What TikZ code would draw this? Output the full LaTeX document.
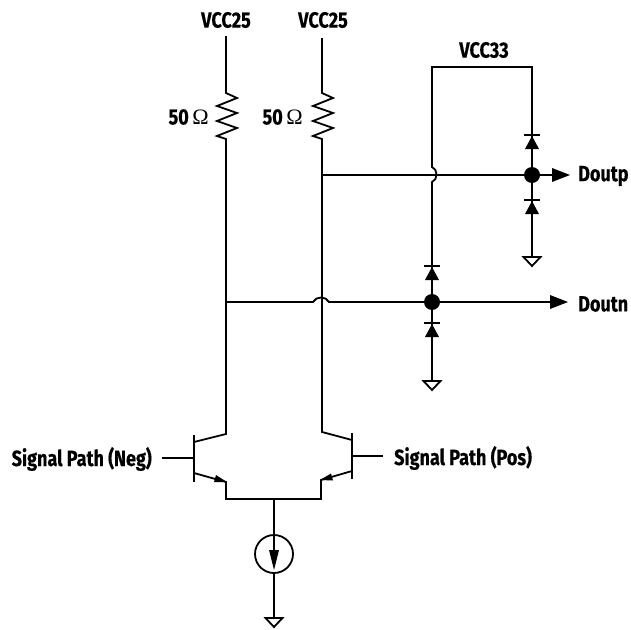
\documentclass[tikz,border=0pt]{standalone}
\usepackage{fontspec}
\setmainfont{Fira Sans}[BoldFont={* Bold},BoldFeatures={FakeBold=0.5},FakeStretch=0.82]
\newfontfamily\omegafont{Liberation Serif}
\tikzset{
  x=1pt,y=-1pt,
  wire/.style={line width=1.8pt,line join=miter},
  thickwire/.style={line width=2.3pt},
  lab/.style={font=\fontsize{22}{24}\selectfont\bfseries,inner sep=0pt},
  dot/.style={circle,fill=black,draw=none,minimum size=16pt,inner sep=0pt},
  gnd/.style={line width=1.8pt,fill=white,line join=miter}
}
\newcommand{\gndsym}[1]{\draw[gnd] ($(#1)+(-8.5,0)$) -- ($(#1)+(8.5,0)$) -- ($(#1)+(0,9)$) -- cycle;}
\newcommand{\diodeup}[1]{%
  \fill ($(#1)+(0,1)$) -- ($(#1)+(-7,14)$) -- ($(#1)+(7,14)$) -- cycle;
  \draw[wire] ($(#1)+(-8,0)$) -- ($(#1)+(8,0)$);}
\usetikzlibrary{calc}
\begin{document}
\begin{tikzpicture}
\useasboundingbox (0,0) rectangle (631,629);
% labels
\node[lab] (vl) at (226,20) {VCC25};
\node[lab] (vr) at (323,20) {VCC25};
\node[lab] (v33) at (484,50) {VCC33};
\node[lab,anchor=east] (rl) at (209,117) {50\,{\omegafont\mdseries Ω}};
\node[lab,anchor=east] (rr) at (303,117) {50\,{\omegafont\mdseries Ω}};
\node[lab,anchor=west] (dp) at (578,176) {Doutp};
\node[lab,anchor=west] (dn) at (578,304) {Doutn};
\node[lab,anchor=east] (sn) at (152,459) {Signal Path (Neg)};
\node[lab,anchor=west] (sp) at (394,458) {Signal Path (Pos)};
% named points
\coordinate (a1) at (226,36);
\coordinate (a2) at (322,38);
\coordinate (r1t) at (226,93);
\coordinate (r1b) at (226,139);
\coordinate (r2t) at (322,93);
\coordinate (r2b) at (322,139);
\coordinate (c1) at (226,434);
\coordinate (c2) at (322,432);
\coordinate (e1) at (226,482);
\coordinate (e2) at (321,480);
\coordinate (b1) at (226,499);
\coordinate (b2) at (321,499);
\coordinate (bm) at (274,499);
\node[circle,draw,line width=1.8pt,minimum size=38pt,inner sep=0pt] (cs) at (274,554) {};
\coordinate (g3) at (274,618);
\coordinate (jp) at (322,175);
\coordinate (jn) at (226,302);
\node[dot] (dotp) at (532,175) {};
\node[dot] (dotn) at (432,302) {};
\coordinate (tl) at (432,67);
\coordinate (tr) at (532,67);
\coordinate (gp) at (532,257);
\coordinate (gn) at (432,381);
\coordinate (dpu) at (532,135);
\coordinate (dpl) at (532,200);
\coordinate (dnu) at (432,266);
\coordinate (dnl) at (432,323);
\coordinate (tipp) at (570,175);
\coordinate (tipn) at (568,302);
% supply rails
\draw[wire] (a1) -- (r1t) -- (237,98) -- (217,106) -- (237,113) -- (217,121) -- (237,128) -- (217,136) -- (r1b) -- (c1) -- (194,442);
\draw[wire] (a2) -- (r2t) -- (333,98) -- (313,106) -- (333,113) -- (313,121) -- (333,128) -- (313,136) -- (r2b) -- (c2) -- (352,440);
% transistors
\draw[wire] (194,435) -- (194,482);
\draw[wire] (352,433) -- (352,479);
\draw[wire] (162,458) -- (194,458);
\draw[wire] (352,456) -- (383,456);
\draw[wire] (194,473) -- (e1) -- (b1) -- (b2) -- (e2) -- (352,471);
\fill (227,482) -- (216,475) -- (214,482) -- cycle;
\fill (320,480) -- (331,473.5) -- (333,480.5) -- cycle;
% current source
\draw[wire] (bm) -- (cs.north);
\draw[wire] (cs.north) -- (274,552);
\fill (274,570) -- (269,550) -- (279,550) -- cycle;
\draw[thickwire] (cs.south) -- (g3);
\gndsym{g3}
% VCC33 and clamps
\draw[wire] (dnu) -- (432,182) .. controls (438,180) and (438,169) .. (432,167) -- (tl) -- (tr) -- (dpu);
\draw[wire] (dpu) -- (dotp) -- (dpl);
\draw[thickwire] (dpl) -- (gp);
\draw[wire] (dnu) -- (dotn) -- (dnl);
\draw[thickwire] (dnl) -- (gn);
\diodeup{dpu}
\diodeup{dpl}
\diodeup{dnu}
\diodeup{dnl}
\gndsym{gp}
\gndsym{gn}
% outputs
\draw[wire] (jp) -- (dotp);
\draw[wire] (dotp) -- (553,175);
\fill (tipp) -- (552,168) -- (552,182) -- cycle;
\draw[wire] (jn) -- (313,302) .. controls (316,296) and (326,296) .. (329,302) -- (dotn);
\draw[wire] (dotn) -- (551,302);
\fill (tipn) -- (550,295) -- (550,309) -- cycle;
\end{tikzpicture}
\end{document}
